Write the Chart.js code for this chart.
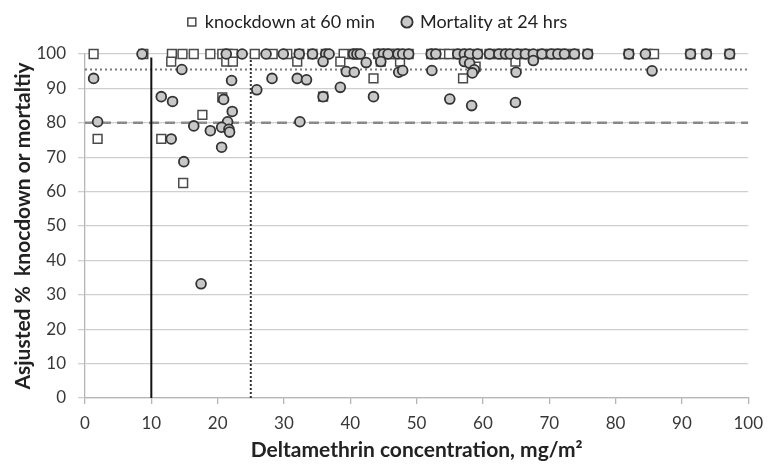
<!DOCTYPE html>
<html>
<head>
<meta charset="utf-8">
<script src="https://cdn.jsdelivr.net/npm/chart.js@4/dist/chart.umd.min.js"></script>
<style>
  body { margin: 0; background: #fff; }
</style>
</head>
<body>
<canvas id="scatterChart" width="772" height="465"></canvas>
<script>
"use strict";

// knockdown at 60 min (squares)
const knockX = [1.3, 8.8, 13.1, 14.7, 16.4, 18.9, 20.7, 21.5, 22.3, 25.6, 28.3, 30.5, 32.3, 34.3, 36.3, 39.0,
  40.5, 41.0, 44.2, 45.0, 45.7, 46.5, 47.2, 48.8, 52.2, 52.9, 54.2, 54.9, 56.2, 57.6, 59.2, 61.0, 62.4, 63.4,
  65.2, 66.4, 68.9, 70.3, 71.3, 72.3, 73.8, 75.8, 82.0, 84.8, 85.8, 91.3, 93.7, 97.2,
  13.0, 21.3, 22.3, 32.0, 38.5, 44.6, 47.5, 64.9, 58.9,
  43.5, 57.0, 20.7, 35.9, 17.7, 1.9, 11.5, 14.8];
const knockY = [100, 100, 100, 100, 100, 100, 100, 100, 100, 100, 100, 100, 100, 100, 100, 100,
  100, 100, 100, 100, 100, 100, 100, 100, 100, 100, 100, 100, 100, 100, 100, 100, 100, 100,
  100, 100, 100, 100, 100, 100, 100, 100, 100, 100, 100, 100, 100, 100,
  97.8, 97.8, 97.8, 97.8, 97.8, 97.8, 97.8, 97.8, 96.3,
  92.9, 92.9, 87.4, 87.6, 82.3, 75.3, 75.3, 62.5];

// Mortality at 24 hrs (circles)
const mortX = [8.6, 21.3, 23.7, 27.3, 29.9, 32.3, 34.3, 36.3, 36.8, 40.5, 41.0, 41.5, 44.2, 45.0, 45.7,
  47.2, 47.9, 48.8, 52.2, 52.9, 56.2, 57.2, 58.0, 59.2, 61.0, 62.4, 63.4, 64.1, 65.2, 66.4, 67.6, 68.9,
  70.3, 71.3, 72.3, 73.8, 75.8, 82.0, 84.5, 91.3, 93.7, 97.2,
  35.9, 42.4, 44.6, 57.2, 58.0, 67.6,
  14.6, 39.4, 40.6, 47.3, 47.9, 52.3, 58.7, 58.4, 65.0, 85.5,
  1.3, 22.1, 28.2, 32.0, 33.4, 25.9, 38.5,
  11.5, 13.2, 20.9, 35.9, 43.5, 55.0, 58.3, 64.9,
  22.2, 1.9, 21.5, 32.4, 16.4, 18.9, 20.6, 21.7, 21.8, 13.0, 20.6, 14.9, 17.5];
const mortY = [100, 100, 100, 100, 100, 100, 100, 100, 100, 100, 100, 100, 100, 100, 100,
  100, 100, 100, 100, 100, 100, 100, 100, 100, 100, 100, 100, 100, 100, 100, 100, 100,
  100, 100, 100, 100, 100, 100, 100, 100, 100, 100,
  97.8, 97.5, 97.8, 97.8, 97.3, 98.1,
  95.5, 94.9, 94.7, 94.7, 95.2, 95.2, 95.4, 94.5, 94.7, 95.1,
  92.9, 92.3, 92.9, 92.9, 92.5, 89.6, 90.3,
  87.6, 86.2, 86.8, 87.6, 87.6, 86.9, 85.0, 85.9,
  83.3, 80.3, 80.3, 80.3, 79.1, 77.7, 78.7, 78.1, 77.3, 75.3, 72.9, 68.7, 33.2];

// reference lines
const solidRefX = [10, 10];
const solidRefY = [0, 99];
const dottedRefX = [25, 25];
const dottedRefY = [0, 100];
const levelX = [0, 100];
const level95 = [95.5, 95.5];
const level80 = [80, 80];

const xTicks = [0, 10, 20, 30, 40, 50, 60, 70, 80, 90, 100];
const yTicks = [0, 10, 20, 30, 40, 50, 60, 70, 80, 90, 100];

const toPoints = (xs, ys) => xs.map((x, i) => ({ x: x, y: ys[i] }));

const legendBox = {
  id: "legendBox",
  beforeInit(chart) {
    const fit = chart.legend.fit;
    chart.legend.fit = function () {
      fit.call(this);
      this.height = 54;
    };
  },
  afterLayout(chart) {
    chart.legend.top -= 15;
    chart.legend.bottom -= 15;
  },
};

let ctx = document.getElementById("scatterChart").getContext("2d");

let myScatter = new Chart(ctx, {
  type: "scatter",
  data: {
    datasets: [
      {
        label: "knockdown at 60 min",
        data: toPoints(knockX, knockY),
        pointStyle: "rect",
        pointRadius: 6.2,
        pointBorderWidth: 1.5,
        borderColor: "#4a4a4a",
        backgroundColor: "#ffffff",
        clip: false,
        order: 2,
      },
      {
        label: "Mortality at 24 hrs",
        data: toPoints(mortX, mortY),
        pointStyle: "circle",
        pointRadius: 4.9,
        pointBorderWidth: 1.8,
        borderColor: "#333333",
        backgroundColor: "#c8c8c8",
        clip: false,
        order: 1,
      },
      {
        label: "95",
        data: toPoints(levelX, level95),
        showLine: true,
        pointRadius: 0,
        borderColor: "#7a7a7a",
        borderWidth: 2,
        borderDash: [2, 3],
        order: 5,
      },
      {
        label: "80",
        data: toPoints(levelX, level80),
        showLine: true,
        pointRadius: 0,
        borderColor: "#8a8a8a",
        borderWidth: 2.5,
        borderDash: [10, 6],
        order: 5,
      },
      {
        label: "10",
        data: toPoints(solidRefX, solidRefY),
        showLine: true,
        pointRadius: 0,
        borderColor: "#111111",
        borderWidth: 2,
        order: 4,
      },
      {
        label: "25",
        data: toPoints(dottedRefX, dottedRefY),
        showLine: true,
        pointRadius: 0,
        borderColor: "#333333",
        borderWidth: 2,
        borderDash: [2, 2],
        order: 4,
      },
    ],
  },
  options: {
    responsive: false,
    animation: false,
    layout: { padding: { left: 0, right: 17, top: 0, bottom: 0 } },
    plugins: {
      tooltip: { enabled: false },
      legend: {
        position: "top",
        labels: {
          filter: (item) => item.datasetIndex < 2,
          sort: (a, b) => a.datasetIndex - b.datasetIndex,
          usePointStyle: true,
          boxWidth: 8,
          boxHeight: 8,
          padding: 28,
          color: "#222222",
          font: { family: "Lato", size: 18 },
        },
      },
    },
    scales: {
      x: {
        type: "linear",
        min: 0,
        max: 100,
        afterFit: (s) => { s.height = 67; },
        afterBuildTicks: (s) => { s.ticks = xTicks.map((v) => ({ value: v })); },
        border: { color: "#b5b5b5", width: 1.3 },
        grid: { drawOnChartArea: false, drawTicks: true, tickLength: 6, color: "#b5b5b5", lineWidth: 1.3 },
        ticks: { padding: 9, color: "#383838", font: { family: "Lato", size: 17 } },
        title: {
          display: true,
          text: "Deltamethrin concentration, mg/m²",
          color: "#222222",
          font: { family: "Lato", size: 21, weight: "bold" },
          padding: { top: 0, bottom: 2 },
        },
      },
      y: {
        type: "linear",
        min: 0,
        max: 100,
        afterFit: (s) => { s.width = 85; },
        afterBuildTicks: (s) => { s.ticks = yTicks.map((v) => ({ value: v })); },
        border: { color: "#b5b5b5", width: 1.3 },
        grid: { color: "#cfcfcf", lineWidth: 1.3, tickLength: 7 },
        ticks: { padding: 12, color: "#383838", font: { family: "Lato", size: 17 } },
        title: {
          display: true,
          text: "Asjusted %  knocdown or mortaltiy",
          color: "#222222",
          font: { family: "Lato", size: 21, weight: "bold" },
          padding: { top: 11, bottom: 0 },
        },
      },
    },
  },
  plugins: [legendBox],
});
</script>
</body>
</html>
